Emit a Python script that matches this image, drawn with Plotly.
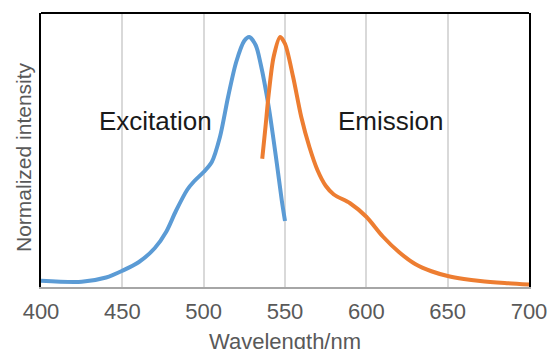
import plotly.graph_objects as go

# Excitation spectrum (wavelength nm, normalized intensity)
ex_wl = [400, 425, 440, 450, 460, 470, 477, 483, 490, 494, 500, 505, 510, 515, 520, 525, 528, 532, 535, 540, 545, 548, 550]
ex_val = [0.025, 0.021, 0.038, 0.065, 0.099, 0.156, 0.221, 0.305, 0.39, 0.422, 0.46, 0.50, 0.60, 0.76, 0.90, 0.985, 1.0, 0.967, 0.893, 0.72, 0.493, 0.347, 0.264]

# Emission spectrum
em_wl = [536, 538, 540, 543, 547, 550, 555, 560, 565, 570, 575, 580, 590, 600, 610, 620, 630, 640, 650, 660, 670, 685, 700]
em_val = [0.513, 0.64, 0.773, 0.92, 1.0, 0.973, 0.84, 0.68, 0.56, 0.467, 0.405, 0.37, 0.335, 0.281, 0.203, 0.14, 0.092, 0.063, 0.044, 0.032, 0.024, 0.016, 0.01]

x_ticks = [400, 450, 500, 550, 600, 650, 700]

FONT = "Liberation Sans, Arial, sans-serif"

W, H = 549, 349
# plot area in page pixels
PL, PR, PT, PB = 41, 529, 13, 287
L, T, R, B = PL, PT, W - PR, H - PB
PW, PH = W - L - R, H - T - B


def px(x):
    return (x - L) / PW


def py(y):
    return 1 - (y - T) / PH


def label(text, x, y, size, color, angle=0):
    return dict(text=text, x=px(x), y=py(y), xref="paper", yref="paper", showarrow=False,
                xanchor="center", yanchor="middle", textangle=angle,
                font=dict(size=size, color=color, family=FONT))


fig = go.Figure()
fig.add_trace(go.Scatter(x=ex_wl, y=ex_val, mode="lines", name="Excitation",
                         line=dict(color="#5B9BD5", width=4, shape="spline", smoothing=0.8)))
fig.add_trace(go.Scatter(x=em_wl, y=em_val, mode="lines", name="Emission",
                         line=dict(color="#ED7D31", width=4, shape="spline", smoothing=0.8)))

fig.update_layout(
    width=W, height=H,
    margin=dict(l=L, r=R, t=T, b=B, autoexpand=False),
    paper_bgcolor="white", plot_bgcolor="white",
    showlegend=False,
    font=dict(family=FONT, color="#595959"),
    xaxis=dict(range=[400, 700], tickvals=x_ticks, showgrid=True, gridcolor="#D9D9D9", gridwidth=2,
               showline=True, linecolor="#A6A6A6", linewidth=2, zeroline=False,
               ticks="", tickfont=dict(size=22, color="#595959"), ticklabelstandoff=4),
    yaxis=dict(range=[0, 1.096], showgrid=False, showticklabels=False, zeroline=False,
               showline=True, linecolor="black", linewidth=2, mirror=True, ticks=""),
    shapes=[dict(type="line", xref="paper", yref="paper", x0=0, x1=1, y0=1, y1=1,
                 line=dict(color="black", width=2))],
    annotations=[
        label("Excitation", 155, 121, 26, "#1A1A1A"),
        label("Emission", 390, 121, 26, "#1A1A1A"),
        label("Wavelength/nm", 285, 341, 22, "#595959"),
        label("Normalized intensity", 23, 157, 21, "#595959", angle=-90),
    ],
)

fig.write_html(
    "out.html",
    config={"displayModeBar": False},
    post_script="document.body.style.margin='0';document.body.style.overflow='hidden';",
)
